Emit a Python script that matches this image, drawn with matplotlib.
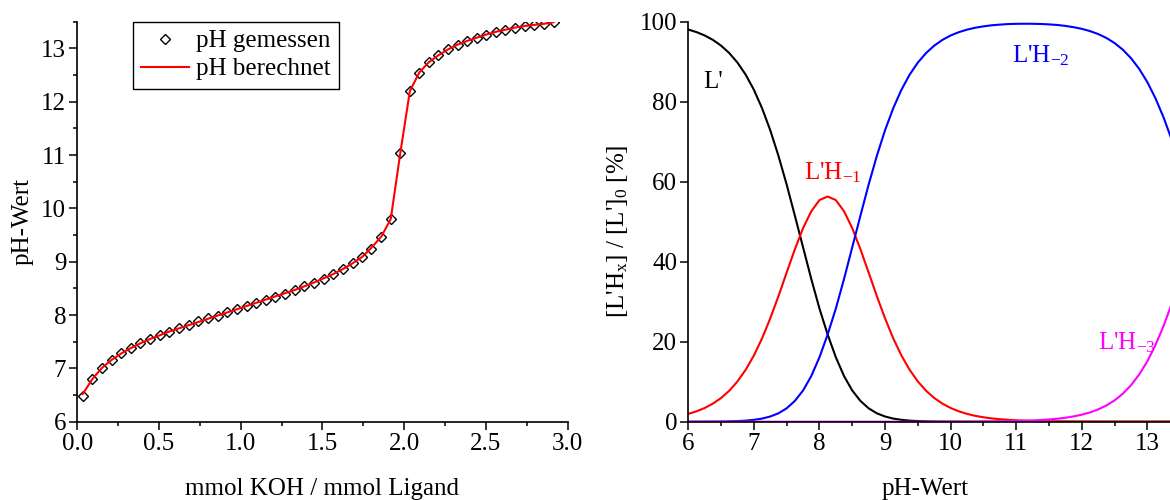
import matplotlib
matplotlib.use('Agg')
import matplotlib.pyplot as plt
from matplotlib.ticker import MultipleLocator, FormatStrFormatter

plt.rcParams['font.family'] = ['Liberation Serif', 'DejaVu Serif']
plt.rcParams['mathtext.fontset'] = 'custom'
plt.rcParams['mathtext.rm'] = 'Liberation Serif'
plt.rcParams['mathtext.it'] = 'Liberation Serif:italic'
plt.rcParams['mathtext.bf'] = 'Liberation Serif:bold'

# titration curve (left)
koh = [0.033, 0.092, 0.151, 0.210, 0.269, 0.327, 0.386, 0.445, 0.504, 0.563,
       0.622, 0.682, 0.741, 0.800, 0.859, 0.918, 0.978, 1.037, 1.096, 1.153,
       1.212, 1.271, 1.331, 1.390, 1.449, 1.508, 1.567, 1.624, 1.684, 1.743,
       1.796, 1.860, 1.918, 1.976, 2.035, 2.093, 2.151, 2.209, 2.268, 2.327,
       2.386, 2.444, 2.503, 2.561, 2.620, 2.679, 2.738, 2.797, 2.855, 2.914]
ph_meas = [6.49, 6.81, 7.01, 7.16, 7.28, 7.38, 7.47, 7.55, 7.63, 7.69,
           7.75, 7.81, 7.88, 7.94, 7.99, 8.06, 8.11, 8.17, 8.22, 8.28,
           8.34, 8.40, 8.47, 8.54, 8.61, 8.68, 8.77, 8.86, 8.97, 9.09,
           9.24, 9.46, 9.81, 11.03, 12.21, 12.54, 12.74, 12.87, 12.98, 13.07,
           13.14, 13.20, 13.26, 13.31, 13.35, 13.39, 13.42, 13.44, 13.46, 13.49]
ph_calc = [6.52, 6.80, 7.01, 7.16, 7.28, 7.38, 7.47, 7.55, 7.62, 7.69,
           7.75, 7.81, 7.87, 7.93, 7.99, 8.05, 8.11, 8.17, 8.23, 8.29,
           8.35, 8.41, 8.47, 8.54, 8.61, 8.69, 8.77, 8.86, 8.97, 9.09,
           9.25, 9.47, 9.80, 11.03, 12.20, 12.55, 12.74, 12.87, 12.98, 13.07,
           13.14, 13.20, 13.26, 13.31, 13.35, 13.39, 13.42, 13.44, 13.46, 13.49]

# species distribution (right), pH 6.0 ... 13.5
ph_spec = [6.0, 6.125, 6.25, 6.375, 6.5, 6.625, 6.75, 6.875,
           7.0, 7.125, 7.25, 7.375, 7.5, 7.625, 7.75, 7.875,
           8.0, 8.125, 8.25, 8.375, 8.5, 8.625, 8.75, 8.875,
           9.0, 9.125, 9.25, 9.375, 9.5, 9.625, 9.75, 9.875,
           10.0, 10.125, 10.25, 10.375, 10.5, 10.625, 10.75, 10.875,
           11.0, 11.125, 11.25, 11.375, 11.5, 11.625, 11.75, 11.875,
           12.0, 12.125, 12.25, 12.375, 12.5, 12.625, 12.75, 12.875,
           13.0, 13.125, 13.25, 13.375, 13.5]
L0 = [98.04, 97.40, 96.56, 95.45, 94.01, 92.15, 89.77, 86.75,
      82.98, 78.36, 72.86, 66.45, 59.27, 51.51, 43.6, 35.7,
      28.3, 21.8, 16.1, 11.4, 7.8, 5.2, 3.35, 2.1,
      1.30, 0.78, 0.47, 0.27, 0.16, 0.09, 0.05, 0.03,
      0.02, 0.01, 0, 0, 0, 0, 0, 0,
      0, 0, 0, 0, 0, 0, 0, 0,
      0, 0, 0, 0, 0, 0, 0, 0,
      0, 0, 0, 0, 0]
LH1 = [1.96, 2.59, 3.43, 4.52, 5.93, 7.75, 10.07, 12.98,
       16.55, 20.85, 25.85, 31.4, 37.3, 43.1, 48.4, 52.6,
       55.4, 56.3, 55.4, 52.6, 48.4, 43.1, 37.3, 31.4,
       25.85, 20.85, 16.55, 12.98, 10.07, 7.75, 5.93, 4.52,
       3.43, 2.59, 1.96, 1.47, 1.11, 0.83, 0.63, 0.47,
       0.35, 0.27, 0.20, 0.15, 0.11, 0.08, 0.06, 0.05,
       0.03, 0.03, 0.02, 0.01, 0.01, 0, 0, 0,
       0, 0, 0, 0, 0]
LH2 = [0.00, 0.01, 0.02, 0.03, 0.05, 0.09, 0.16, 0.27,
       0.47, 0.78, 1.30, 2.1, 3.35, 5.2, 7.8, 11.4,
       16.1, 21.8, 28.3, 35.7, 43.6, 51.51, 59.27, 66.45,
       72.86, 78.36, 82.98, 86.75, 89.77, 92.15, 94.01, 95.45,
       96.55, 97.38, 98.01, 98.49, 98.83, 99.10, 99.27, 99.40,
       99.47, 99.49, 99.48, 99.43, 99.33, 99.18, 98.95, 98.63,
       98.22, 97.65, 96.92, 95.94, 94.67, 93.02, 90.91, 88.23,
       84.91, 80.83, 75.98, 70.34, 64.0]
LH3 = [0, 0, 0, 0, 0, 0, 0, 0,
       0, 0, 0, 0, 0, 0, 0, 0,
       0, 0, 0, 0, 0, 0, 0, 0,
       0, 0, 0, 0, 0, 0, 0, 0,
       0, 0.02, 0.03, 0.04, 0.06, 0.07, 0.10, 0.13,
       0.18, 0.24, 0.32, 0.42, 0.56, 0.74, 0.99, 1.32,
       1.75, 2.32, 3.07, 4.05, 5.32, 6.98, 9.09, 11.77,
       15.09, 19.17, 24.02, 29.66, 36.0]

fig = plt.figure(figsize=(11.7, 5), dpi=100)
ax1 = fig.add_axes([0.0661, 0.1566, 0.419, 0.8])
ax2 = fig.add_axes([0.5883, 0.1566, 0.4117, 0.8])

for ax in (ax1, ax2):
    ax.spines['top'].set_visible(False)
    ax.spines['right'].set_visible(False)
    for s in ('left', 'bottom'):
        ax.spines[s].set_linewidth(1.2)
    ax.tick_params(which='major', direction='out', length=6, width=1.1, labelsize=18, pad=2)
    ax.tick_params(which='minor', direction='out', length=3.2, width=1.1)

# left panel
ax1.plot(koh, ph_meas, linestyle='none', marker='D', ms=5.5, mfc='white',
         mec='black', mew=1.0, label='pH gemessen', zorder=2)
ax1.plot(koh, ph_calc, color='red', lw=1.5, label='pH berechnet', zorder=3)
ax1.set_xlim(0, 3)
ax1.set_ylim(6, 13.5)
ax1.xaxis.set_major_locator(MultipleLocator(0.5))
ax1.xaxis.set_minor_locator(MultipleLocator(0.25))
ax1.xaxis.set_major_formatter(FormatStrFormatter('%.1f'))
ax1.yaxis.set_major_locator(MultipleLocator(1))
ax1.yaxis.set_minor_locator(MultipleLocator(0.5))
ax1.set_xlabel('mmol KOH / mmol Ligand', fontsize=18)
ax1.xaxis.set_label_coords(0.5, -0.141)
ax1.set_ylabel('pH-Wert', fontsize=18)
ax1.yaxis.set_label_coords(-0.090, 0.5)
leg = ax1.legend(loc='upper left', bbox_to_anchor=(0.114, 1.0), borderaxespad=0,
                 fancybox=False, edgecolor='black', fontsize=18, handlelength=1.9,
                 handletextpad=0.3, borderpad=0.33, labelspacing=0.22, numpoints=1,
                 framealpha=1)
leg.get_frame().set_linewidth(1.0)

# right panel
ax2.plot(ph_spec, L0, color='black', lw=1.5)
ax2.plot(ph_spec, LH1, color='red', lw=1.5)
ax2.plot(ph_spec, LH2, color='blue', lw=1.5)
ax2.plot(ph_spec, LH3, color='magenta', lw=1.5)
ax2.set_xlim(6, 13.346)
ax2.set_ylim(0, 100)
ax2.xaxis.set_major_locator(MultipleLocator(1))
ax2.xaxis.set_minor_locator(MultipleLocator(0.5))
ax2.yaxis.set_major_locator(MultipleLocator(20))
ax2.set_xlabel('pH-Wert', fontsize=18)
ax2.xaxis.set_label_coords(0.491, -0.141)
ax2.set_ylabel(r"[L'H$_\mathrm{x}$] / [L']$_0$ [%]", fontsize=18)
ax2.yaxis.set_label_coords(-0.121, 0.477)

ax2.text(6.23, 83.4, "L'", ha='left', va='baseline', fontsize=18)
ax2.text(8.2, 60.6, r"L'H$_{-1}$", color='red', ha='center', va='baseline', fontsize=18)
ax2.text(11.37, 89.9, r"L'H$_{-2}$", color='blue', ha='center', va='baseline', fontsize=18)
ax2.text(12.69, 18.0, r"L'H$_{-3}$", color='magenta', ha='center', va='baseline', fontsize=18)

fig.savefig('out.png', dpi=100)
